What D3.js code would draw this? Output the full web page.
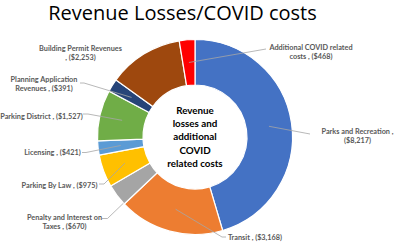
<!DOCTYPE html>
<html>
<head>
<meta charset="utf-8">
<script src="https://cdn.jsdelivr.net/npm/d3@7"></script>
<style>
  html, body { margin: 0; padding: 0; background: #fff; }
  svg { display: block; }
  .title { font-family: "Open Sans", sans-serif; font-size: 20px; fill: #000; }
  .hole-text { font-family: Lato, sans-serif; font-weight: 700; font-size: 9.8px; fill: #000; }
  .slice-label { font-family: Lato, sans-serif; font-weight: 700; font-size: 7.3px; fill: #595959; }
  .leader { fill: none; stroke: #a6a6a6; stroke-width: 0.8; }
</style>
</head>
<body>
<svg id="chart" width="400" height="247"></svg>
<script>
// chart data, clockwise from 12 o'clock
const categories = [
    'Parks and Recreation',
    'Transit',
    'Penalty and Interest on Taxes',
    'Parking By Law',
    'Licensing',
    'Parking District',
    'Planning Application Revenues',
    'Building Permit Revenues',
    'Additional COVID related costs '
];
const values = [8217, 3168, 670, 975, 421, 1527, 391, 2253, 468];
const colors = ['#4472c4', '#ed7d31', '#a5a5a5', '#ffc000', '#5b9bd5',
                '#70ad47', '#264478', '#9e480e', '#ff0000'];
const holeLines = ['Revenue', 'losses and', 'additional', 'COVID', 'related costs'];

// label layout: words on first line (0 = single line), text anchor point, leader bend points
const labelLayout = [
    { wrap: 4, x: 357.5, y: 133.5, leader: [[310, 134]] },
    { wrap: 0, x: 255,   y: 240.3, leader: [[222, 237], [226, 237]] },
    { wrap: 4, x: 64.5,  y: 220.3, leader: [[107.5, 218.5], [102, 218.5]], edge: true },
    { wrap: 0, x: 59.5,  y: 187.5, leader: [[104, 184], [99, 184]] },
    { wrap: 0, x: 52.5,  y: 155.2, leader: [[86, 152.5], [82, 152.5]] },
    { wrap: 0, x: 41.5,  y: 118.6, leader: [[88, 114], [83, 114]] },
    { wrap: 2, x: 44,    y: 81.6,  leader: [[84, 83], [80, 83]] },
    { wrap: 3, x: 80.5,  y: 50.5,  leader: null },
    { wrap: 3, x: 311,   y: 50.3,  leader: [[266, 49]] }
];

const width = 400, height = 247;
const cx = 195, cy = 137;
const outerR = 97.5, innerR = 52;

const svg = d3.select('#chart');
const fmt = d3.format(',');

svg.append('text')
    .attr('class', 'title')
    .attr('x', 182.5)
    .attr('y', 20)
    .attr('text-anchor', 'middle')
    .text('Revenue Losses/COVID costs');

const pie = d3.pie().sort(null).value(d => d)(values);
const arc = d3.arc().innerRadius(innerR).outerRadius(outerR);

const g = svg.append('g').attr('transform', `translate(${cx},${cy})`);

g.selectAll('path.slice')
    .data(pie)
    .join('path')
    .attr('class', 'slice')
    .attr('d', arc)
    .attr('fill', (d, i) => colors[i])
    .attr('stroke', '#fff')
    .attr('stroke-width', 1.2);

// leaders: from ring centroid (or the outer edge for the small grey slice) to the label
const line = d3.line();
pie.forEach((d, i) => {
    const lay = labelLayout[i];
    if (!lay.leader) return;
    let start;
    if (lay.edge) {
        const a = d.startAngle + 0.05 * (d.endAngle - d.startAngle);
        start = [cx + outerR * Math.sin(a), cy - outerR * Math.cos(a)];
    } else {
        const c = arc.centroid(d);
        start = [cx + c[0], cy + c[1]];
    }
    svg.append('path')
        .attr('class', 'leader')
        .attr('d', line([start, ...lay.leader]));
});

// slice labels
pie.forEach((d, i) => {
    const lay = labelLayout[i];
    const full = `${categories[i]} , ($${fmt(values[i])})`;
    let lines = [full];
    if (lay.wrap) {
        const words = full.split(' ');
        lines = [words.slice(0, lay.wrap).join(' '), words.slice(lay.wrap).join(' ')];
    }
    const t = svg.append('text')
        .attr('class', 'slice-label')
        .attr('text-anchor', 'middle')
        .attr('x', lay.x)
        .attr('y', lay.y);
    lines.forEach((s, k) => {
        t.append('tspan').attr('x', lay.x).attr('dy', k ? 9 : 0).text(s);
    });
});

// text in the hole
const ht = svg.append('text')
    .attr('class', 'hole-text')
    .attr('text-anchor', 'middle');
holeLines.forEach((s, k) => {
    ht.append('tspan')
        .attr('x', cx)
        .attr('y', cy + (k - 2) * 13.4 + 3.4)
        .text(s);
});
</script>
</body>
</html>
